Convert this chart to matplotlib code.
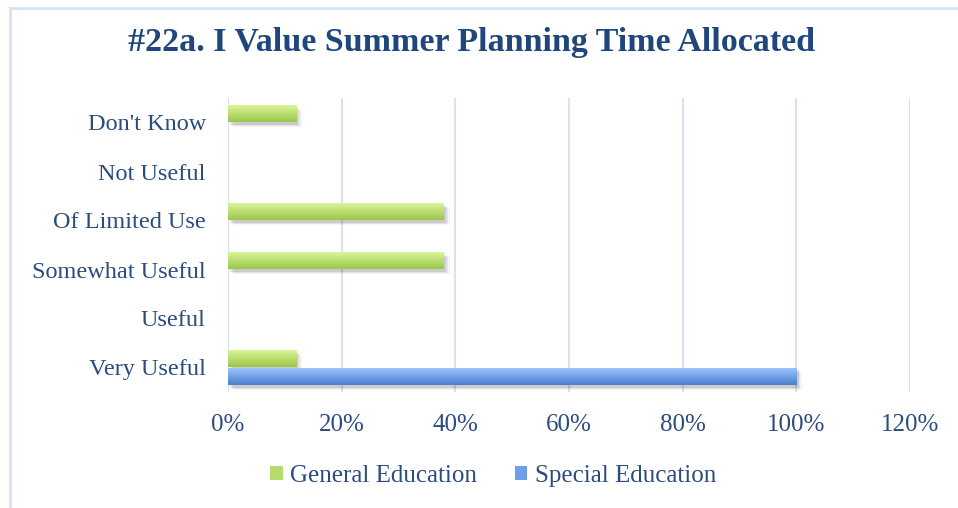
import matplotlib
matplotlib.use("Agg")
import matplotlib.pyplot as plt
import numpy as np
from matplotlib.patches import Rectangle
from matplotlib.lines import Line2D

categories = ["Very Useful", "Useful", "Somewhat Useful", "Of Limited Use", "Not Useful", "Don't Know"]
general_ed = [12, 0, 38, 38, 0, 12]
special_ed = [100, 0, 0, 0, 0, 0]
x_ticks = [0, 20, 40, 60, 80, 100, 120]
x_ticklabels = ["0%", "20%", "40%", "60%", "80%", "100%", "120%"]
series_names = ["General Education", "Special Education"]
title = "#22a. I Value Summer Planning Time Allocated"

plt.rcParams['font.family'] = ['Liberation Serif', 'DejaVu Serif']
text_color = "#2B4C7E"
title_color = "#1F477D"
grid_color = "#D7E3F2"

fig = plt.figure(figsize=(9.58, 5.08), dpi=100)
W, H = 958, 508
ax = fig.add_axes([228 / W, 1 - 392 / H, (910 - 228) / W, (392 - 98) / H])

y = np.arange(len(categories))
h = 0.35

green_cmap = matplotlib.colors.LinearSegmentedColormap.from_list("g", ["#9CC64A", "#DDF89E"])
blue_cmap = matplotlib.colors.LinearSegmentedColormap.from_list("b", ["#4A80CE", "#A2C6FF"])

def draw(vals, ypos, cmap, shadow=True):
    bars = ax.barh(ypos, vals, height=h, color="none", edgecolor="none", zorder=3)
    grad = np.linspace(0, 1, 64).reshape(-1, 1)
    for b in bars:
        if b.get_width() <= 0:
            continue
        x0, y0 = b.get_x(), b.get_y()
        w, hh = b.get_width(), b.get_height()
        if shadow:
            for k, a in enumerate([0.10, 0.07, 0.04]):
                s = Rectangle((x0 + 0.4 + 0.3 * k, y0 - 0.06 - 0.02 * k), w, hh,
                              facecolor="#000000", alpha=a, edgecolor="none", zorder=2)
                ax.add_patch(s)
        im = ax.imshow(grad, cmap=cmap, aspect="auto", origin="lower",
                       extent=(x0, x0 + w, y0, y0 + hh), zorder=4, interpolation="bilinear")
        im.set_clip_path(b)
    return bars

draw(general_ed, y + h / 2, green_cmap)
draw(special_ed, y - h / 2, blue_cmap)

ax.set_xlim(0, 120)
ax.set_ylim(-0.5, len(categories) - 0.5)
ax.set_xticks(x_ticks)
ax.set_xticklabels(x_ticklabels)
ax.set_yticks(y)
ax.set_yticklabels(categories)
ax.tick_params(axis="both", length=0, colors=text_color)
ax.tick_params(axis="x", pad=16, labelsize=18)
ax.tick_params(axis="y", pad=16, labelsize=17.5)
ax.xaxis.grid(True, color=grid_color, linewidth=1.5, zorder=0)
ax.set_axisbelow(True)
for sp in ax.spines.values():
    sp.set_visible(False)
ax.axvline(0, color=grid_color, linewidth=1.5, zorder=1)

fig.text(472 / W, 1 - 42 / H, title, ha="center", va="center", fontsize=24.5,
         fontweight="bold", color=title_color)

handles = [Rectangle((0, 0), 1, 1, facecolor="#B5DB6A", edgecolor="none"),
           Rectangle((0, 0), 1, 1, facecolor="#6F9FE6", edgecolor="none")]
fig.legend(handles, series_names, loc="center", bbox_to_anchor=(493 / W, 1 - 476 / H),
           ncol=2, frameon=False, fontsize=18, handlelength=0.5, handleheight=0.5,
           handletextpad=0.3, columnspacing=1.5, labelcolor=text_color)

fig.add_artist(Line2D([10 / W, 10 / W], [0, 1 - 8 / H], transform=fig.transFigure,
                      color=grid_color, linewidth=2))
fig.add_artist(Line2D([10 / W, 1], [1 - 8 / H, 1 - 8 / H], transform=fig.transFigure,
                      color=grid_color, linewidth=2))

fig.savefig("out.png", dpi=100)
